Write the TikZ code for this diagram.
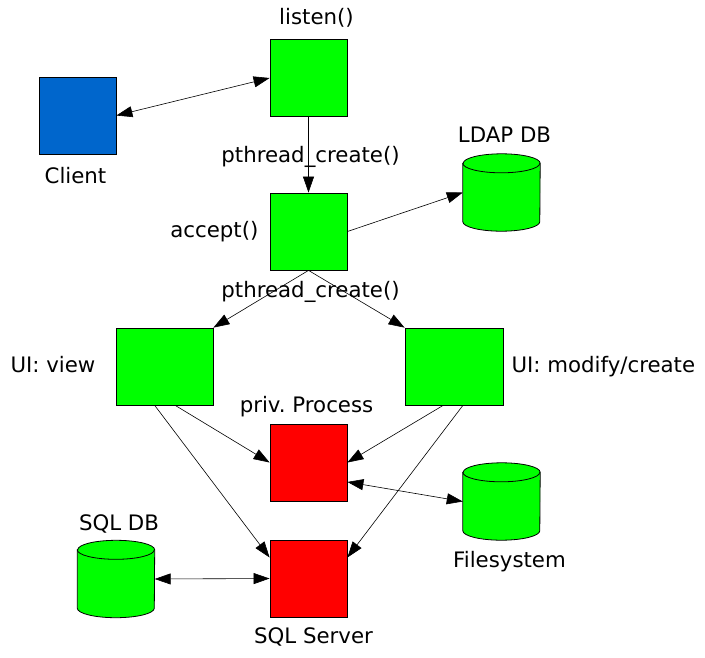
\documentclass[tikz,border=0pt]{standalone}
\usepackage{fontspec}
\setmainfont{DejaVu Sans}
\usepackage{xcolor}
\usepackage{tikz}
\usetikzlibrary{arrows.meta,calc}

\definecolor{threadgreen}{RGB}{0,255,0}
\definecolor{clientblue}{RGB}{0,102,204}
\definecolor{privred}{RGB}{255,0,0}

\begin{document}
\begin{tikzpicture}[
    x=1pt,
    y=-1pt,
    font=\fontsize{21.3}{25}\selectfont,
    every label/.style={
        inner sep=0pt,
        text height=16pt,
        text depth=5pt
    },
    block/.style={
        draw,
        line width=0.8pt,
        minimum width=77pt,
        minimum height=77pt,
        inner sep=0pt
    },
    thread/.style={block, fill=threadgreen},
    priv/.style={block, fill=privred},
    store/.style={
        minimum width=77pt,
        minimum height=77pt,
        inner sep=0pt
    },
    link/.style={line width=0.6pt},
    >={Triangle[length=16pt,width=11pt]}
]

\useasboundingbox (0,0) rectangle (705,657);

% Define processes
\node[thread,label={[label distance=9pt,xshift=8pt]above:{listen()}}] (listen) at (308.5,78) {};
\node[block,fill=clientblue,label={[label distance=13pt,xshift=-2pt]below:{Client}}] (client) at (77.5,115.5) {};
\node[thread,label={[label distance=11pt]left:{accept()}},
    label={[label distance=11pt,xshift=2pt]below:{pthread\_create()}}] (accept) at (308.5,231.5) {};
\node[store,label={[label distance=6pt,xshift=3pt]above:{LDAP DB}}] (ldap) at (501.5,192.5) {};
\node[thread,minimum width=97pt,label={[label distance=20pt]left:{UI: view}}] (view) at (164.5,366.5) {};
\node[thread,minimum width=98pt,label={[label distance=8pt]right:{UI: modify/create}}] (modify) at (454,366.5) {};
\node[priv,label={[label distance=6pt,xshift=-2pt]above:{priv.\ Process}}] (privproc) at (308.5,462.5) {};
\node[store,label={[label distance=11pt,xshift=8pt]below:{Filesystem}}] (fs) at (501.5,501.5) {};
\node[store,label={[label distance=5pt,xshift=3pt]above:{SQL DB}}] (sqldb) at (116,579) {};
\node[priv,label={[label distance=10pt,xshift=5pt]below:{SQL Server}}] (sqlserver) at (308.5,578.5) {};

% Databases as cylinders
\foreach \db in {ldap,fs,sqldb}{
    \draw[line width=0.8pt,fill=threadgreen]
        ($(\db.north west)+(0pt,-9.5pt)$) -- ($(\db.south west)+(0pt,9.5pt)$)
        arc[start angle=180,end angle=360,x radius=38.5pt,y radius=9.5pt]
        -- ($(\db.north east)+(0pt,-9.5pt)$)
        arc[start angle=0,end angle=180,x radius=38.5pt,y radius=9.5pt] -- cycle;
    \draw[line width=0.8pt] ($(\db.north west)+(0pt,-9.5pt)$)
        arc[start angle=180,end angle=360,x radius=38.5pt,y radius=9.5pt];
}

% Define connections
\draw[link,<->] (client.east) -- (listen.west);
\draw[link,->] (listen) -- node[pos=0.53,xshift=2pt,inner sep=0pt,text height=16pt,text depth=5pt] {pthread\_create()} (accept);
\draw[link,->] (accept.east) -- (ldap.west);
\draw[link,->] (accept.south) -- (view.north east);
\draw[link,->] (accept.south) -- (modify.north west);
\draw[link,->] ($(view.south west)!0.61!(view.south east)$) -- (privproc.west);
\draw[link,->] ($(view.south west)!0.40!(view.south east)$) -- ($(sqlserver.north west)!0.23!(sqlserver.south west)$);
\draw[link,->] ($(modify.south west)!0.39!(modify.south east)$) -- (privproc.east);
\draw[link,->] ($(modify.south west)!0.59!(modify.south east)$) -- ($(sqlserver.north east)!0.23!(sqlserver.south east)$);
\draw[link,<->] ($(privproc.north east)!0.75!(privproc.south east)$) -- (fs.west);
\draw[link,<->] (sqldb.east) -- (sqlserver.west);

\end{tikzpicture}
\end{document}
